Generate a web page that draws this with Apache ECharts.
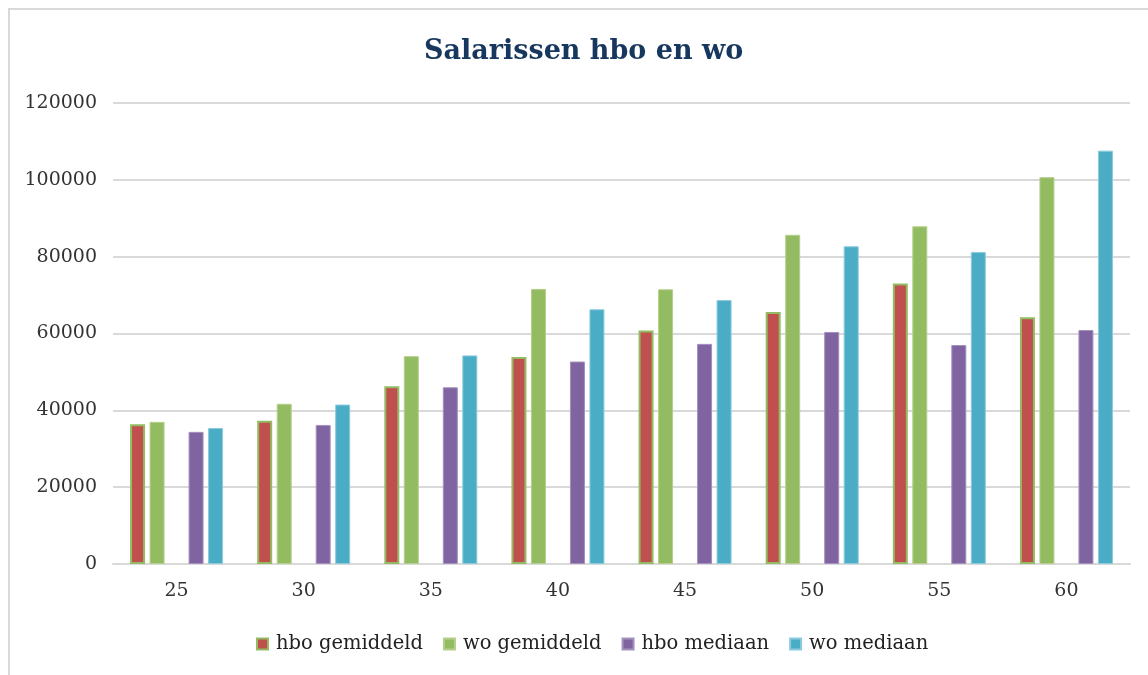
<!DOCTYPE html>
<html>
<head>
<meta charset="utf-8">
<title>Salarissen hbo en wo</title>
<script src="https://cdn.jsdelivr.net/npm/echarts@6/dist/echarts.min.js"></script>
<style>
  html, body { margin: 0; padding: 0; background: #fff; }
  .frame {
    position: absolute; left: 8px; top: 8px; width: 1160px; height: 700px;
    border: 2px solid #d9d9d9; box-sizing: border-box;
  }
  #chart { position: absolute; left: 0; top: 0; width: 1148px; height: 675px; }
</style>
</head>
<body>
<div class="frame"></div>
<div id="chart"></div>
<script>
// categorieen (leeftijd)
const ages = ['25', '30', '35', '40', '45', '50', '55', '60'];

// salarissen per leeftijd
const hboGemiddeld = [36400, 37300, 46300, 53900, 60800, 65600, 73000, 64200];
const woGemiddeld = [37000, 41700, 54100, 71600, 71500, 85700, 87900, 100700];
const hboMediaan = [34400, 36200, 46000, 52700, 57300, 60400, 57000, 60900];
const woMediaan = [35400, 41500, 54300, 66300, 68700, 82700, 81200, 107600];

const seriesNames = ['hbo gemiddeld', 'wo gemiddeld', 'hbo mediaan', 'wo mediaan'];
const colors = ['#c0504d', '#93bc62', '#8064a2', '#4bacc6'];

const FONT = 'DejaVu Serif';

function bar(name, data, color, border, borderWidth) {
  return {
    name: name,
    type: 'bar',
    data: data,
    barWidth: 15,
    barGap: '30%',
    itemStyle: { color: color, borderColor: border, borderWidth: borderWidth },
    emphasis: { disabled: true }
  };
}

const chart = echarts.init(document.getElementById('chart'));

// het kader loopt rechts door buiten beeld, dus titel en legenda staan iets rechts van het midden
const option = {
  animation: false,
  title: {
    text: 'Salarissen hbo en wo',
    left: 419,
    top: 33,
    textStyle: { fontFamily: FONT, fontSize: 27, fontWeight: 'bold', color: '#17375e' }
  },
  legend: {
    data: seriesNames.map((n) => ({ name: n })),
    bottom: 16,
    left: 251,
    itemWidth: 11,
    itemHeight: 11,
    itemGap: 20,
    icon: 'rect',
    textStyle: { fontFamily: FONT, fontSize: 19.5, color: '#222', padding: [0, 0, 0, 3] }
  },
  grid: { left: 113, right: 18, top: 103, bottom: 111 },
  xAxis: {
    type: 'category',
    data: ages,
    axisTick: { show: false },
    axisLine: { lineStyle: { color: '#d9d9d9', width: 2 } },
    axisLabel: { fontFamily: FONT, fontSize: 19, color: '#333', margin: 18 }
  },
  yAxis: {
    type: 'value',
    min: 0,
    max: 120000,
    interval: 20000,
    axisLabel: {
      fontFamily: FONT,
      fontSize: 19,
      color: '#333',
      margin: 16,
      formatter: (v) => String(v)
    },
    splitLine: { lineStyle: { color: '#d9d9d9', width: 2 } }
  },
  series: [
    bar('hbo gemiddeld', hboGemiddeld, colors[0], '#93bc62', 2),
    bar('wo gemiddeld', woGemiddeld, colors[1], '#b5cf8a', 1),
    // lege plek tussen gemiddeld en mediaan
    bar('', ages.map(() => null), 'transparent', 'transparent', 0),
    bar('hbo mediaan', hboMediaan, colors[2], '#a591be', 1),
    bar('wo mediaan', woMediaan, colors[3], '#8ccbdd', 1)
  ]
};

chart.setOption(option);
</script>
</body>
</html>
